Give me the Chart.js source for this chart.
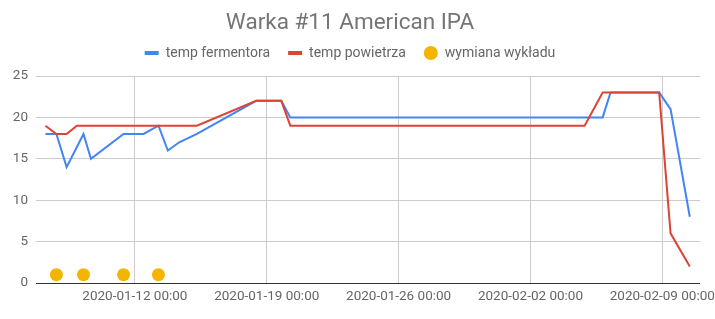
<!DOCTYPE html>
<html>
<head>
<meta charset="utf-8">
<script src="https://cdn.jsdelivr.net/npm/chart.js@4"></script>
<style>
    html, body { margin: 0; padding: 0; background: #fff; }
    #wrap { width: 715px; height: 319px; }
</style>
</head>
<body>
<div id="wrap"><canvas id="warka"></canvas></div>
<script>
// temp fermentora
const fermTimes = ['2020-01-07T06:00', '2020-01-07T20:00', '2020-01-08T09:00', '2020-01-09T06:30', '2020-01-09T16:00',
    '2020-01-11T09:30', '2020-01-12T11:00', '2020-01-13T06:00', '2020-01-13T18:00', '2020-01-14T08:30',
    '2020-01-15T07:00', '2020-01-18T10:30', '2020-01-19T18:30', '2020-01-20T06:00', '2020-02-05T20:00',
    '2020-02-06T06:00', '2020-02-08T20:00', '2020-02-09T10:30', '2020-02-10T11:00'];
const fermTemps = [18, 18, 14, 18, 15, 18, 18, 19, 16, 17, 18, 22, 22, 20, 20, 23, 23, 21, 8];

// temp powietrza
const airTimes = ['2020-01-07T06:00', '2020-01-07T20:00', '2020-01-08T09:00', '2020-01-08T22:00', '2020-01-15T07:00',
    '2020-01-18T10:30', '2020-01-19T18:30', '2020-01-20T06:00', '2020-02-04T21:00', '2020-02-05T20:00',
    '2020-02-08T20:00', '2020-02-09T10:30', '2020-02-10T11:00'];
const airTemps = [19, 18, 18, 19, 19, 22, 22, 19, 19, 23, 23, 6, 2];

// wymiana wykładu
const swapTimes = ['2020-01-07T20:00', '2020-01-09T06:30', '2020-01-11T09:30', '2020-01-13T06:00'];
const swapValues = [1, 1, 1, 1];

const xTicks = ['2020-01-12T00:00', '2020-01-19T00:00', '2020-01-26T00:00', '2020-02-02T00:00', '2020-02-09T00:00'];
const yTicks = [0, 5, 10, 15, 20, 25];

const toPoints = (times, vals) => times.map((t, i) => ({ x: new Date(t).getTime(), y: vals[i] }));
const pad = n => String(n).padStart(2, '0');
const fmt = v => {
    const d = new Date(v);
    return d.getFullYear() + '-' + pad(d.getMonth() + 1) + '-' + pad(d.getDate()) + ' ' + pad(d.getHours()) + ':' + pad(d.getMinutes());
};

const tickFont = { family: 'Roboto', size: 13.5 };

// a bit more room under the legend, like the original
const legendGap = {
    id: 'legendGap',
    afterInit(chart) {
        const lg = chart.legend;
        const fit = lg.fit;
        lg.fit = function () {
            fit.call(this);
            this.height += 6;
        };
    }
};

const warkaChart = new Chart(document.getElementById('warka'), {
    type: 'line',
    plugins: [legendGap],
    data: {
        datasets: [{
            label: 'temp fermentora',
            data: toPoints(fermTimes, fermTemps),
            borderColor: '#4285F4',
            backgroundColor: '#4285F4',
            borderWidth: 2,
            pointRadius: 0,
            tension: 0,
            pointStyle: 'line',
            order: 2
        }, {
            label: 'temp powietrza',
            data: toPoints(airTimes, airTemps),
            borderColor: '#DB4437',
            backgroundColor: '#DB4437',
            borderWidth: 2,
            pointRadius: 0,
            tension: 0,
            pointStyle: 'line',
            order: 1
        }, {
            label: 'wymiana wykładu',
            data: toPoints(swapTimes, swapValues),
            showLine: false,
            pointRadius: 6.5,
            pointHoverRadius: 6.5,
            pointStyle: 'circle',
            pointBackgroundColor: '#F4B400',
            backgroundColor: '#F4B400',
            borderColor: '#F4B400',
            pointBorderWidth: 0,
            borderWidth: 0,
            order: 0
        }]
    },
    options: {
        responsive: true,
        maintainAspectRatio: false,
        animation: false,
        layout: { padding: { left: 0, right: 15, top: 0, bottom: 0 } },
        plugins: {
            title: {
                display: true,
                text: 'Warka #11 American IPA',
                color: '#757575',
                font: { family: 'Roboto', size: 22.5, weight: 'normal' },
                padding: { top: 10, bottom: -9 }
            },
            legend: {
                position: 'top',
                labels: {
                    usePointStyle: true,
                    pointStyleWidth: 14,
                    boxHeight: 10,
                    padding: 18,
                    color: '#666',
                    font: { family: 'Roboto', size: 14 },
                    sort: (a, b) => a.datasetIndex - b.datasetIndex,
                    generateLabels: chart => {
                        const items = Chart.defaults.plugins.legend.labels.generateLabels(chart);
                        items.forEach(it => {
                            if (it.pointStyle === 'line') it.lineWidth = 4;
                            else { it.lineWidth = 0; it.fillStyle = '#F4B400'; }
                        });
                        return items;
                    }
                }
            },
            tooltip: { enabled: false }
        },
        scales: {
            x: {
                type: 'linear',
                min: new Date('2020-01-06T18:00').getTime(),
                max: new Date('2020-02-11T00:00').getTime(),
                afterBuildTicks: axis => { axis.ticks = xTicks.map(t => ({ value: new Date(t).getTime() })); },
                afterFit: axis => {
                    axis.height = 36;
                    axis.paddingLeft = 0;
                    axis.paddingRight = 0;
                },
                ticks: {
                    callback: v => fmt(v),
                    color: '#666',
                    font: tickFont,
                    padding: 6,
                    maxRotation: 0,
                    autoSkip: false
                },
                grid: { color: '#ccc', drawTicks: false },
                border: { display: false }
            },
            y: {
                min: 0,
                max: 25,
                afterBuildTicks: axis => { axis.ticks = yTicks.map(v => ({ value: v })); },
                afterFit: axis => { axis.width = 36; },
                ticks: { color: '#666', font: tickFont, padding: 8 },
                grid: {
                    color: c => c.tick && c.tick.value === 0 ? '#333' : '#ccc',
                    drawTicks: false
                },
                border: { display: false }
            }
        }
    }
});
</script>
</body>
</html>
